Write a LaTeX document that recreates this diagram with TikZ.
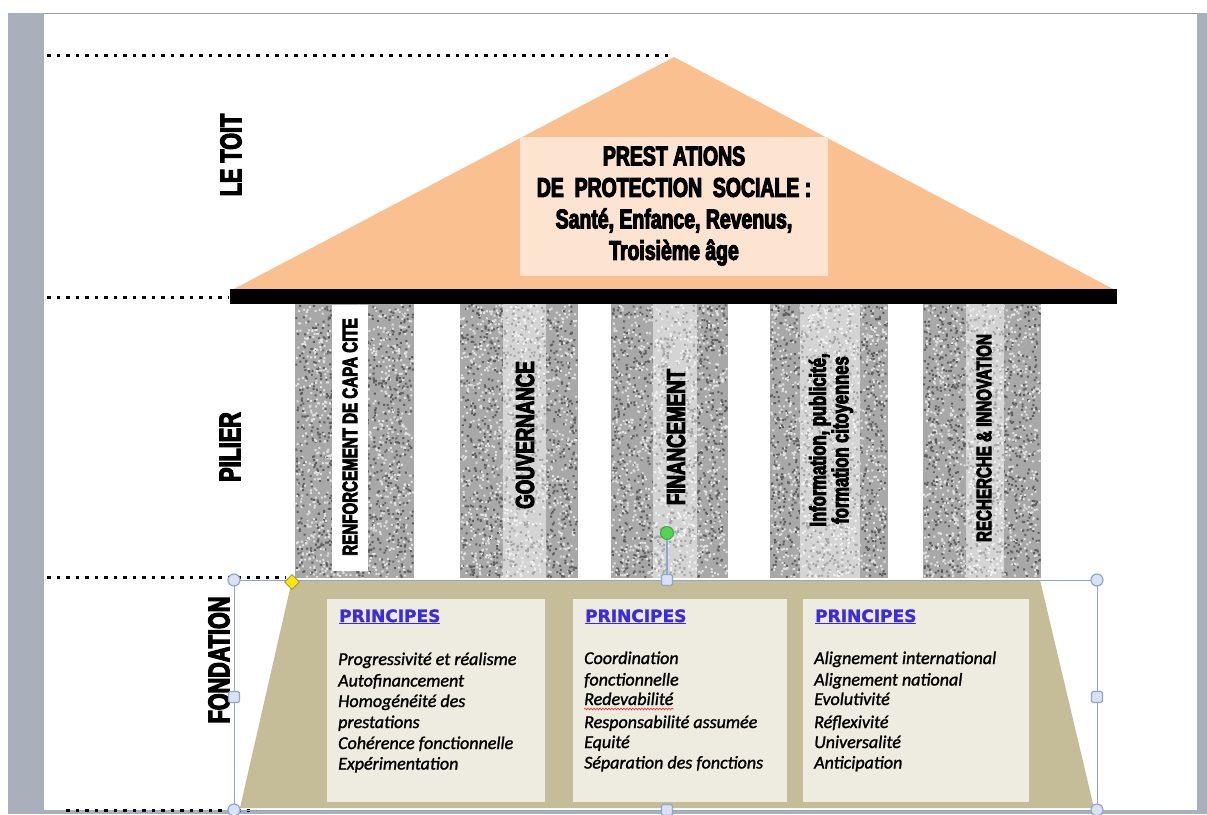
\documentclass[tikz,border=0pt]{standalone}
\usepackage{fontspec}
\setmainfont{Liberation Sans}
\newfontfamily\impactf[FakeStretch=0.72,FakeBold=4]{Liberation Sans}
\newfontfamily\calib[FakeBold=1.4]{Carlito}
\newfontfamily\verd[FakeBold=1.5]{DejaVu Sans}
\usetikzlibrary{shapes.geometric,decorations.pathmorphing}
\definecolor{sidegray}{HTML}{A9B0BC}
\definecolor{roofc}{HTML}{FAC090}
\definecolor{roofbox}{HTML}{FDE4D0}
\definecolor{fondc}{HTML}{C4BD97}
\definecolor{fbox}{HTML}{EEECE1}
\definecolor{princblue}{HTML}{3B2BE0}
\definecolor{hblue}{HTML}{8FA6CF}
\definecolor{hfill}{HTML}{D9E1F2}
\definecolor{gbase}{HTML}{A8A8A8}
\definecolor{gdark}{HTML}{5E5E5E}
\definecolor{glight}{HTML}{E2E2E2}
\definecolor{cbase}{HTML}{D4D4D4}
\definecolor{cdark}{HTML}{A4A4A4}
\definecolor{clight}{HTML}{F2F2F2}
\newcommand\granite[7]{%
  \fill[#5] (#1,#2) rectangle ++(#3,#4);
  \pgfmathtruncatemacro\ndots{#3/330*#4}%
  \foreach \j in {1,...,10}{%
    \fill[#6] foreach \k in {1,...,\ndots} {({#1+(#3-2)*rnd},{#2+(#4-2)*rnd}) rectangle ++(2,2)};
    \fill[#7] foreach \k in {1,...,\ndots} {({#1+(#3-2)*rnd},{#2+(#4-2)*rnd}) rectangle ++(2,2)};
  }%
}
\begin{document}
\begin{tikzpicture}[x=1pt,y=-1pt,
  dotline/.style={line width=3pt, dash pattern=on 3.5pt off 6pt, black},
  sidelbl/.style={font=\impactf\bfseries\fontsize{30}{30}\selectfont, rotate=90, inner sep=0},
  ptxt/.style={font=\impactf\bfseries\fontsize{#1}{#1}\selectfont, rotate=90, inner sep=0, align=center},
  princ/.style={font=\verd\bfseries\fontsize{17}{17}\selectfont, text=princblue, anchor=base west, inner sep=0},
  item/.style={font=\calib\itshape\fontsize{18}{18}\selectfont, anchor=base west, inner sep=0},
  fboxst/.style={fill=fbox, minimum width=#1, minimum height=203pt, inner sep=0},
  handle/.style={draw=hblue, fill=hfill, line width=1.2pt, inner sep=0},
]
\useasboundingbox (0,0) rectangle (1207,814);
\pgfmathsetseed{2024}
% window background
\fill[white] (0,0) rectangle (1207,814);
\fill[sidegray] (8,13) rectangle (44,814);
\fill[sidegray] (1197,13) rectangle (1207,814);
\fill[sidegray] (44,810) rectangle (1197,814);
\draw[gray!80, line width=1.5pt] (44,13.5) -- (1197,13.5);
% dotted level lines
\draw[dotline] (47,55) -- (672,55);
\draw[dotline] (47,297) -- (228,297);
\draw[dotline] (47,577) -- (286,577);
\draw[dotline] (66,810) -- (256,810);
% roof
\fill[roofc] (230,291) -- (674,57) -- (1117,291) -- cycle;
\fill[black] (230,289) rectangle (1117,304);
\node[fill=roofbox, minimum width=308pt, minimum height=139pt, inner sep=0,
      font=\impactf\bfseries\fontsize{27}{31.5}\selectfont, align=center] (roofbox) at (674,206)
  {PREST ATIONS\\DE\ \ PROTECTION\ \ SOCIALE :\\Sant\'e, Enfance, Revenus,\\Troisi\`eme \^age};
% pillars
\granite{295}{304}{119}{274}{gbase}{gdark}{glight}
\fill[white] (332,305) rectangle (368,571);
\granite{460}{304}{118}{274}{gbase}{gdark}{glight}
\granite{503}{304}{43}{274}{cbase}{cdark}{clight}
\granite{611}{304}{117}{274}{gbase}{gdark}{glight}
\granite{653}{304}{44}{274}{cbase}{cdark}{clight}
\granite{770}{304}{118}{274}{gbase}{gdark}{glight}
\granite{800}{304}{60}{274}{cbase}{cdark}{clight}
\granite{923}{304}{118}{274}{gbase}{gdark}{glight}
\granite{966}{304}{38}{274}{cbase}{cdark}{clight}
\node[ptxt=21] (p1) at (350,437) {RENFORCEMENT DE CAPA CITE};
\node[ptxt=26] (p2) at (525,435) {GOUVERNANCE};
\node[ptxt=26] (p3) at (676,437) {FINANCEMENT};
\node[ptxt=23, font=\impactf\bfseries\fontsize{23}{22.5}\selectfont] (p4) at (831,440) {Information, publicit\'e,\\formation citoyennes};
\node[ptxt=21] (p5) at (984,438) {RECHERCHE \& INNOVATION};
% side labels
\node[sidelbl] (toit) at (231,155) {LE TOIT};
\node[sidelbl] (pilier) at (230,447) {PILIER};
\node[sidelbl] (fond) at (219,660) {FONDATION};
% foundation
\fill[fondc] (292,580) -- (1040,580) -- (1094,808) -- (240,808) -- cycle;
\node[fboxst=218pt] (box1) at (436,700) {};
\node[fboxst=214pt] (box2) at (680,700) {};
\node[fboxst=226pt] (box3) at (916,700) {};
\node[princ] (pr1) at (339,622) {\underline{PRINCIPES}};
\node[princ] (pr2) at (585,622) {\underline{PRINCIPES}};
\node[princ] (pr3) at (815,622) {\underline{PRINCIPES}};
\foreach \t [count=\i] in {Progressivit\'e et r\'ealisme, Autofinancement, Homog\'en\'eit\'e des, prestations, Coh\'erence fonctionnelle, Exp\'erimentation}{
  \pgfmathsetmacro\yy{{665,686.5,707,728,749,769.5}[\i-1]}
  \node[item] (a\i) at (338,\yy) {\t};
}
\foreach \t [count=\i] in {Coordination, fonctionnelle, Redevabilit\'e, Responsabilit\'e assum\'ee, Equit\'e, S\'eparation des fonctions}{
  \pgfmathsetmacro\yy{{664,685.5,705,728,748,768.5}[\i-1]}
  \node[item] (b\i) at (584,\yy) {\t};
}
\foreach \t [count=\i] in {Alignement international, Alignement national, Evolutivit\'e, R\'eflexivit\'e, Universalit\'e, Anticipation}{
  \pgfmathsetmacro\yy{{664,685.5,705,728,748,768.5}[\i-1]}
  \node[item] (c\i) at (814,\yy) {\t};
}
\draw[red!85, line width=0.6pt, decorate, decoration={snake, amplitude=0.9pt, segment length=3pt}]
  ([yshift=-4pt]b3.base west) -- ([yshift=-4pt]b3.base east);
% selection frame and handles
\draw[hblue, line width=1pt] (234,580) rectangle (1097,810);
\node[handle, circle, minimum size=12pt] (s1) at (234,580) {};
\node[handle, circle, minimum size=12pt] (s2) at (1097,580) {};
\node[handle, circle, minimum size=12pt] (s3) at (234,810) {};
\node[handle, circle, minimum size=12pt] (s4) at (1097,810) {};
\node[handle, rectangle, rounded corners=1.5pt, minimum size=11pt] (m1) at (667,580) {};
\node[handle, rectangle, rounded corners=1.5pt, minimum size=11pt] (m2) at (234,697) {};
\node[handle, rectangle, rounded corners=1.5pt, minimum size=11pt] (m3) at (1097,697) {};
\node[handle, rectangle, rounded corners=1.5pt, minimum size=11pt] (m4) at (667,810) {};
\node[draw=green!45!black!70, fill=green!65!white!85!black, circle, line width=1pt, minimum size=13pt, inner sep=0] (rot) at (667,533) {};
\draw[hblue, line width=1.5pt] (rot) -- (m1);
\node[draw=yellow!50!black, fill=yellow!90!orange, diamond, minimum size=15pt, inner sep=0, line width=0.8pt] (adj) at (292,582) {};
\end{tikzpicture}
\end{document}
